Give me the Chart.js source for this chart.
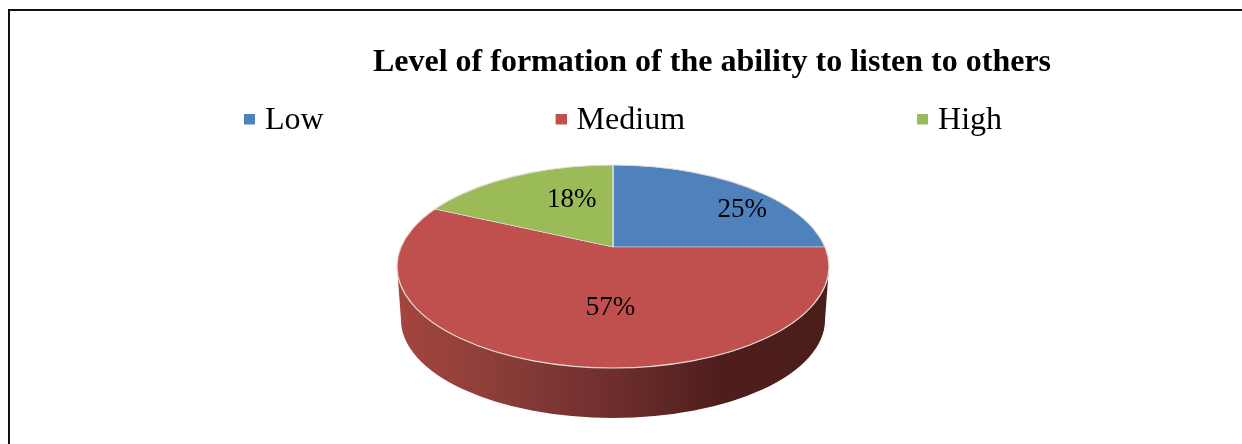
<!DOCTYPE html>
<html><head><meta charset="utf-8">
<style>
html,body{margin:0;padding:0;background:#fff;width:1242px;height:444px;overflow:hidden}
#wrap{position:relative;width:1242px;height:444px}
#topline{position:absolute;left:8px;top:9px;width:1234px;height:2px;background:#111}
#leftline{position:absolute;left:8px;top:9px;width:2px;height:435px;background:#111}
canvas{position:absolute;left:0;top:0}
</style>
<script src="https://cdn.jsdelivr.net/npm/chart.js@4"></script>
</head><body>
<div id="wrap"><div id="topline"></div><div id="leftline"></div><canvas id="c" width="1242" height="444"></canvas></div>
<script>
const titleText = 'Level of formation of the ability to listen to others';
const categories = ['Low','Medium','High'];
const shares = [25,57,18];
const sliceColors = ['#4F81BD','#C0504D','#9BBB59'];

const FONT = '"Liberation Serif","Times New Roman",serif';
// tilted disc: rim ellipse, the off-centre apex where the slices meet, and the wall below
const RIM = {cx:613, cy:266.5, rx:216, ry:101.5};
const FOOT = {cx:613, cy:320, rx:212, ry:98};
const APEX = {x:613, y:247, sx:300, sy:136};
const TITLE_CENTER = 712, LEGEND_SHIFT = 3.5, LEGEND_PAD = 235, LEGEND_Y = 105;
const labelPlace = [{f:.6,dx:2,dy:21},{f:.45,dx:27,dy:1},{f:.3,dx:7,dy:-12.5}];

function marker(color){
  const m=document.createElement('canvas');m.width=14;m.height=15;
  const g=m.getContext('2d');g.fillStyle=color;g.fillRect(3,0,11,11);return m;
}
const pie3d={
  id:'pie3d',
  afterLayout(chart){
    const t=chart.titleBlock,l=chart.legend;
    const tc=(t.left+t.right)/2;
    t.left+=TITLE_CENTER-tc; t.right+=TITLE_CENTER-tc;
    l.left+=LEGEND_SHIFT; l.right+=LEGEND_SHIFT;
    l.top=LEGEND_Y-LEGEND_PAD; l.bottom=LEGEND_Y+50;
  },
  beforeDatasetDraw(chart,args){
    const ctx=chart.ctx, arcs=args.meta.data, el0=arcs[0];
    ctx.save();
    const g=ctx.createLinearGradient(RIM.cx-RIM.rx,0,RIM.cx+RIM.rx,0);
    g.addColorStop(0,'#A5453F');g.addColorStop(.22,'#8C3E39');g.addColorStop(.5,'#6E2E2D');
    g.addColorStop(.75,'#4E1E1C');g.addColorStop(1,'#4A1D1B');
    arcs.forEach(a=>{
      const s=Math.max(a.startAngle,0), e=Math.min(a.endAngle,Math.PI);
      if(e<=s) return;
      ctx.beginPath();
      ctx.ellipse(RIM.cx,RIM.cy,RIM.rx,RIM.ry,0,s,e);
      ctx.ellipse(FOOT.cx,FOOT.cy,FOOT.rx,FOOT.ry,0,e,s,true);
      ctx.closePath();ctx.fillStyle=g;ctx.fill();
    });
    ctx.restore();
    // top face: the library's arcs, clipped to the rim
    ctx.save();
    ctx.beginPath();ctx.ellipse(RIM.cx,RIM.cy,RIM.rx,RIM.ry,0,0,2*Math.PI);ctx.clip();
    ctx.translate(APEX.x,APEX.y);
    ctx.scale(APEX.sx/el0.outerRadius,APEX.sy/el0.outerRadius);
    ctx.translate(-el0.x,-el0.y);
  },
  afterDatasetDraw(chart,args){
    const ctx=chart.ctx;
    ctx.restore();
    ctx.save();
    ctx.beginPath();ctx.ellipse(RIM.cx,RIM.cy,RIM.rx,RIM.ry,0,0,2*Math.PI);
    ctx.strokeStyle='#E6DDD6';ctx.lineWidth=1.1;ctx.stroke();
    ctx.font='27px '+FONT;ctx.fillStyle='#000';ctx.textAlign='center';ctx.textBaseline='middle';
    args.meta.data.forEach((a,i)=>{
      const mid=(a.startAngle+a.endAngle)/2, p=labelPlace[i];
      ctx.fillText(shares[i]+'%',
        APEX.x+Math.cos(mid)*APEX.sx*p.f+p.dx,
        APEX.y+Math.sin(mid)*APEX.sy*p.f+p.dy);
    });
    ctx.restore();
  }
};
new Chart(document.getElementById('c'),{
  type:'pie',
  data:{labels:categories,datasets:[{data:shares,backgroundColor:sliceColors,
    borderColor:'#DDE0D6',borderWidth:.7,clip:5000}]},
  plugins:[pie3d],
  options:{
    responsive:false,animation:false,devicePixelRatio:1,
    layout:{padding:{top:44,bottom:10}},
    plugins:{
      tooltip:{enabled:false},
      title:{display:true,text:titleText,color:'#000',
        font:{family:FONT,size:32,weight:'bold'},padding:{top:0,bottom:6}},
      legend:{display:true,position:'top',maxHeight:40,labels:{
        usePointStyle:true,pointStyleWidth:2,padding:LEGEND_PAD,color:'#000',
        font:{family:FONT,size:32},
        generateLabels:()=>categories.map((c,i)=>({text:c,fillStyle:sliceColors[i],strokeStyle:sliceColors[i],
          lineWidth:0,pointStyle:marker(sliceColors[i]),index:i}))
      }}
    }
  }
});
</script>
</body></html>
